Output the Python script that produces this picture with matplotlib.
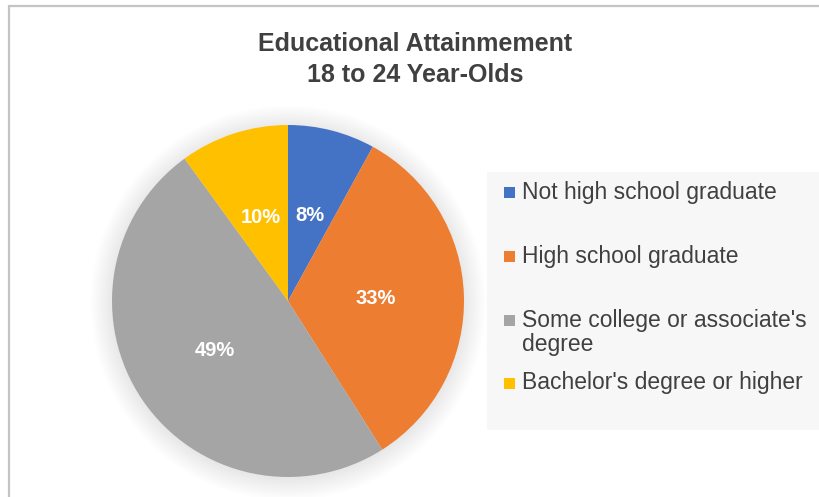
import matplotlib
matplotlib.use("Agg")
import matplotlib.pyplot as plt
from matplotlib import font_manager
from matplotlib.patches import Rectangle, Circle

# Data
categories = ["Not high school graduate", "High school graduate",
              "Some college or associate's degree", "Bachelor's degree or higher"]
legend_lines = ["Not high school graduate", "High school graduate",
                "Some college or associate's\ndegree", "Bachelor's degree or higher"]
shares = [8, 33, 49, 10]
colors = ["#4472C4", "#ED7D31", "#A5A5A5", "#FFC000"]
title = "Educational Attainmement\n18 to 24 Year-Olds"

installed = {f.name for f in font_manager.fontManager.ttflist}
narrow = "Liberation Sans Narrow" if "Liberation Sans Narrow" in installed else "Liberation Sans"
title_size = 20.5 if narrow == "Liberation Sans Narrow" else 18
pct_size = 15.5 if narrow == "Liberation Sans Narrow" else 14.5
plt.rcParams["font.family"] = ["Liberation Sans", "DejaVu Sans"]

W, H = 820, 497
fig = plt.figure(figsize=(W / 100, H / 100), dpi=100)
fig.patch.set_facecolor("white")

# outer frame (only top and left edges visible)
fig.add_artist(Rectangle((8.5 / W, -0.1), 1.2, 1.1 - 5.5 / H, transform=fig.transFigure,
                         fill=False, edgecolor="#c4c4c4", linewidth=1.6))

# title
fig.text(415.5 / W, 1 - 59.5 / H, title, ha="center", va="center", fontsize=title_size,
         fontweight="bold", color="#404040", family=narrow, linespacing=1.4)

# pie
cx, cy, r = 288, 301, 176
ax = fig.add_axes([(cx - r) / W, (H - cy - r) / H, 2 * r / W, 2 * r / H])
ax.axis("off")

# soft shadow around the pie
for k in range(12):
    ax.add_patch(Circle((0, -0.01), 1.0 + 0.011 * k, color="black", alpha=0.007,
                        lw=0, zorder=0, clip_on=False))

wedges, texts, autotexts = ax.pie(shares, colors=colors, startangle=90, counterclock=False,
                                  autopct="%d%%", pctdistance=0.5, radius=1,
                                  wedgeprops=dict(linewidth=0))
ax.set_xlim(-1, 1)
ax.set_ylim(-1, 1)
ax.set_aspect("equal")
for t in autotexts:
    t.set_color("white")
    t.set_fontweight("bold")
    t.set_fontsize(pct_size)
    t.set_family(narrow)

# legend box, drawn in pixel coordinates
lx0, lx1, ly0, ly1 = 487, 820, 172, 430
lax = fig.add_axes([lx0 / W, (H - ly1) / H, (lx1 - lx0) / W, (ly1 - ly0) / H])
lax.set_xlim(lx0, lx1)
lax.set_ylim(ly1, ly0)
lax.set_facecolor("#f7f7f7")
for s in lax.spines.values():
    s.set_visible(False)
lax.set_xticks([])
lax.set_yticks([])

row_y = [192, 256, 320, 383]
for label, c, y in zip(legend_lines, colors, row_y):
    lax.add_patch(Rectangle((504, y - 5.5), 11, 11, color=c, lw=0))
    lines = label.split("\n")
    for i, line in enumerate(lines):
        lax.text(522, y + 25 * i, line, ha="left", va="center",
                 fontsize=16.5, color="#404040")

fig.savefig("out.png", dpi=100, facecolor="white")
